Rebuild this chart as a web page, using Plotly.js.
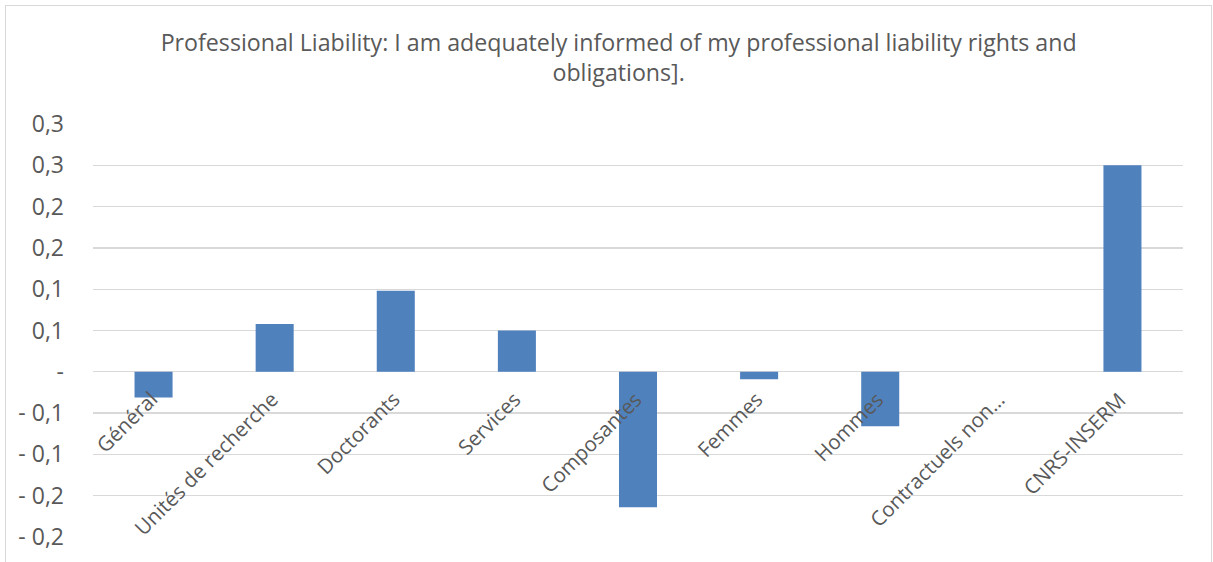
<!DOCTYPE html>
<html>
<head>
<meta charset="utf-8">
<script src="https://cdn.plot.ly/plotly-3.0.1.min.js"></script>
<style>
  body { margin: 0; background: #fff; }
  #myDiv { position: absolute; left: 0; top: 0; width: 1213px; height: 562px; }
  #frame { position: absolute; left: 5px; top: 5px; width: 1205px; height: 600px;
           border: 1px solid #d9d9d9; pointer-events: none; }
</style>
</head>
<body>
<div id="myDiv"></div>
<div id="frame"></div>
<script>
const categories = ['Général', 'Unités de recherche', 'Doctorants', 'Services', 'Composantes',
  'Femmes', 'Hommes', 'Contractuels non…', 'CNRS-INSERM'];
const values = [-0.031, 0.058, 0.098, 0.05, -0.164, -0.009, -0.066, 0, 0.25];

const yTickVals = [0.3, 0.25, 0.2, 0.15, 0.1, 0.05, 0, -0.05, -0.1, -0.15, -0.2];
const yTickText = ['0,3', '0,3', '0,2', '0,2', '0,1', '0,1', '-', '- 0,1', '- 0,1', '- 0,2', '- 0,2'];

const titleText = 'Professional Liability: I am adequately informed of my professional liability rights and<br>obligations].';

const fontFamily = '"Open Sans", sans-serif';
const textColor = '#595959';

const trace = {
  x: categories,
  y: values,
  type: 'bar',
  marker: { color: '#4f81bd' },
  hoverinfo: 'x+y',
};

// category labels sit under the zero line, like the original chart
const labelAnnotations = categories.map((cat) => ({
  x: cat,
  y: 0,
  xref: 'x',
  yref: 'y',
  text: cat,
  textangle: -45,
  xanchor: 'right',
  yanchor: 'top',
  xshift: 12,
  yshift: -11,
  showarrow: false,
  font: { family: fontFamily, size: 20.5, color: textColor },
}));

const layout = {
  width: 1213,
  height: 562,
  margin: { l: 93, r: 30, t: 124, b: 25 },
  paper_bgcolor: '#fff',
  plot_bgcolor: '#fff',
  showlegend: false,
  bargap: 0.686,
  title: {
    text: titleText,
    font: { family: fontFamily, size: 23.2, color: textColor },
    x: 0.51,
    xanchor: 'center',
    y: 1 - 51 / 562,
    yanchor: 'top',
  },
  xaxis: {
    // fixed range so the label annotations don't widen the axis
    range: [-0.5, categories.length - 0.5],
    autorange: false,
    showticklabels: false,
    showgrid: false,
    zeroline: false,
    showline: false,
    ticks: '',
  },
  yaxis: {
    range: [-0.2, 0.3],
    autorange: false,
    tickmode: 'array',
    tickvals: yTickVals,
    ticktext: yTickText,
    showgrid: true,
    gridcolor: '#d9d9d9',
    gridwidth: 1.3,
    zeroline: false,
    showline: false,
    ticks: '',
    ticklabelstandoff: 28,
    tickfont: { family: fontFamily, size: 23, color: textColor },
  },
  annotations: labelAnnotations,
};

Plotly.newPlot('myDiv', [trace], layout, { displayModeBar: false, staticPlot: true });
</script>
</body>
</html>
